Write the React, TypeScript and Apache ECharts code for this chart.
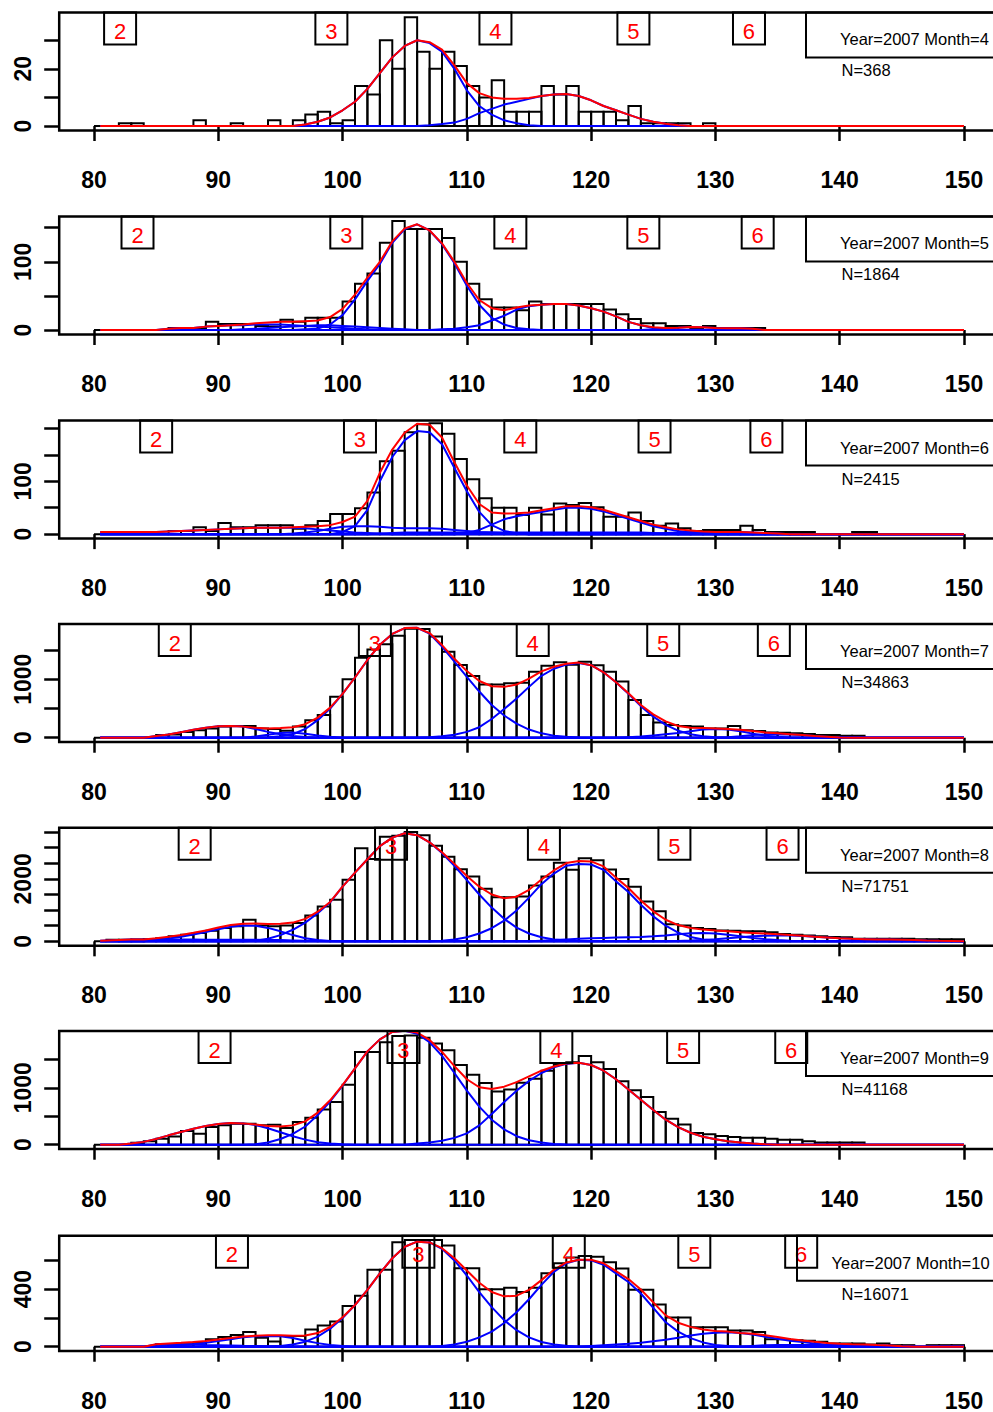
import React, { useEffect, useRef } from "react";
import * as echarts from "echarts";

const FONT = '"Liberation Sans", Arial, Helvetica, sans-serif';

// ---------- data ----------
const months = [4, 5, 6, 7, 8, 9, 10];
const sampleSizes = [368, 1864, 2415, 34863, 71751, 41168, 16071];
const xTicks = [80, 90, 100, 110, 120, 130, 140, 150];
const ageNames = ["2", "3", "4", "5", "6"];

// histogram counts, bins of width 1 from 80 to 150
const histApr = [
  0, 0, 1, 1, 0, 0, 0, 0, 2, 0,
  0, 1, 0, 0, 2, 0, 2, 4, 5, 1,
  2, 14, 11, 30, 20, 38, 26, 20, 26, 21,
  14, 10, 16, 5, 5, 5, 14, 11, 14, 5,
  5, 5, 2, 7, 1, 1, 1, 1, 0, 1,
  0, 0, 0, 0, 0, 0, 0, 0, 0, 0,
  0, 0, 0, 0, 0, 0, 0, 0, 0, 0,
];
const histMay = [
  0, 0, 0, 0, 0, 0, 3, 3, 3, 12,
  9, 9, 9, 6, 5, 15, 12, 18, 18, 18,
  42, 68, 83, 128, 160, 148, 148, 148, 135, 100,
  68, 45, 33, 33, 29, 42, 38, 38, 38, 38,
  38, 30, 23, 16, 10, 10, 6, 6, 3, 6,
  3, 3, 3, 3, 0, 0, 0, 0, 0, 0,
  0, 0, 0, 0, 0, 0, 0, 0, 0, 0,
];
const histJun = [
  0, 0, 0, 0, 0, 0, 6, 6, 13, 6,
  21, 13, 13, 17, 17, 17, 10, 17, 25, 38,
  38, 49, 79, 138, 158, 193, 208, 210, 190, 142,
  104, 68, 50, 50, 36, 50, 37, 58, 55, 59,
  51, 33, 33, 41, 25, 16, 20, 11, 6, 8,
  8, 8, 16, 8, 4, 4, 4, 4, 0, 0,
  0, 4, 4, 0, 0, 0, 0, 0, 0, 0,
];
const histJul = [
  0, 0, 0, 0, 0, 45, 57, 100, 130, 160,
  190, 200, 200, 160, 150, 120, 190, 300, 390, 700,
  1000, 1370, 1510, 1600, 1745, 1865, 1860, 1730, 1470, 1245,
  1055, 910, 910, 930, 940, 1130, 1230, 1290, 1250, 1300,
  1240, 1130, 960, 645, 390, 262, 217, 200, 190, 160,
  160, 200, 130, 115, 90, 85, 75, 63, 45, 45,
  35, 35, 0, 0, 0, 0, 0, 0, 0, 0,
];
const histAug = [
  0, 50, 50, 60, 70, 100, 160, 210, 265, 340,
  425, 480, 690, 510, 480, 510, 585, 830, 1117, 1330,
  1970, 2980, 2640, 3350, 3380, 3499, 3400, 3060, 2710, 2310,
  2075, 1680, 1415, 1415, 1436, 1787, 2075, 2520, 2290, 2660,
  2600, 2300, 2000, 1750, 1275, 960, 550, 510, 425, 395,
  350, 340, 320, 320, 290, 235, 210, 190, 160, 140,
  128, 85, 85, 85, 85, 85, 65, 65, 65, 65,
];
const histSep = [
  0, 0, 0, 35, 59, 105, 146, 240, 193, 310,
  340, 369, 369, 340, 350, 293, 398, 475, 620, 750,
  1054, 1629, 1629, 1800, 1910, 1919, 1880, 1780, 1660, 1400,
  1230, 1084, 937, 972, 1090, 1160, 1300, 1420, 1450, 1560,
  1450, 1330, 1113, 955, 838, 574, 457, 357, 205, 182,
  152, 135, 123, 123, 105, 88, 88, 59, 41, 41,
  41, 41, 0, 0, 0, 0, 0, 0, 0, 0,
];
const histOct = [
  0, 0, 0, 0, 0, 18, 18, 18, 29, 52,
  67, 81, 103, 63, 36, 74, 74, 119, 148, 175,
  283, 355, 535, 535, 726, 742, 742, 742, 703, 546,
  546, 400, 400, 410, 380, 410, 510, 580, 620, 630,
  625, 588, 543, 396, 396, 294, 204, 204, 136, 136,
  136, 113, 113, 102, 52, 52, 45, 41, 34, 23,
  23, 23, 16, 23, 11, 11, 0, 11, 11, 11,
];

// mixture components: [first integer x, values at successive integer x]
const compsApr: [number, number[]][] = [
  [96, [0, 0.5, 1.5, 3, 5.5, 8.5, 13, 18.5, 24, 28, 30, 29, 26, 20, 12.5, 7, 4, 2, 1, 0.3, 0]],
  [106, [0, 0.3, 0.7, 1.2, 2.5, 4.5, 6, 7.5, 8.5, 9.5, 10.5, 11, 11.2, 10.5, 9, 7, 5.5, 4, 2.5, 1.5, 0.8, 0.3, 0]],
];
const compsMay: [number, number[]][] = [
  [85, [0, 2, 3, 3, 5, 6, 7, 7, 8, 8, 8, 7, 6, 5, 4, 3, 2, 1, 0]],
  [91, [0, 1, 2, 3, 4, 5, 6, 7, 7, 6, 5, 4, 3, 2, 1, 0]],
  [97, [1, 2, 8, 22, 45, 72, 97, 128, 148, 155, 146, 126, 98, 65, 37, 18, 8, 3, 1, 0]],
  [108, [1, 2, 4, 7, 14, 21, 30, 35, 37, 38, 38, 36, 32, 27, 20, 12, 7, 3, 1, 0]],
  [124, [0, 1, 2, 3.5, 4.5, 4, 3, 2.5, 2.5, 2, 0]],
];
const compsJun: [number, number[]][] = [
  [80, [4, 4, 4, 4, 4, 4, 5, 6, 7, 8, 9, 10, 11, 12, 12, 12, 12, 11, 9, 7, 5, 3, 2, 1, 0]],
  [96, [1, 3, 6, 10, 14, 15, 15, 14, 12, 11, 11, 11, 10, 8, 6, 4, 3, 2, 1, 0]],
  [102, [0, 1, 2, 3, 3, 3, 3, 3, 3, 3, 3, 3, 3, 3, 3, 3, 3, 3, 3, 3, 3, 3, 3, 2, 1, 0]],
  [100, [4, 15, 46, 100, 146, 178, 195, 193, 170, 125, 81, 42, 17, 6, 1.5, 0]],
  [110, [2, 8, 18, 28, 34, 38, 42, 46, 50, 50, 48, 43, 36, 29, 22, 15, 10, 6, 3, 1, 0]],
  [124, [0, 1, 2, 3, 4, 4, 4, 4, 4, 3, 2, 1, 0]],
];
const compsJul: [number, number[]][] = [
  [84, [0, 30, 55, 95, 135, 170, 195, 200, 190, 150, 100, 60, 30, 12, 4, 0]],
  [92, [0, 20, 50, 80, 90, 70, 40, 15, 0]],
  [94, [10, 25, 60, 150, 300, 500, 750, 1030, 1330, 1590, 1775, 1875, 1880, 1780, 1560, 1300, 1040, 790, 560, 380, 240, 140, 75, 35, 15, 5, 0]],
  [107, [10, 25, 50, 100, 180, 320, 490, 670, 870, 1060, 1180, 1250, 1280, 1240, 1120, 950, 750, 540, 360, 220, 120, 60, 25, 10, 0]],
  [122, [0, 10, 20, 40, 60, 80, 110, 140, 150, 140, 110, 70, 35, 15, 5, 0]],
  [130, [0, 10, 25, 45, 55, 60, 55, 45, 28, 17, 6, 0]],
];
const compsAug: [number, number[]][] = [
  [80, [15, 30, 45, 55, 55, 55, 55, 55, 55, 50, 50, 50, 50, 50, 45, 40, 30, 20, 10, 0]],
  [84, [0, 40, 90, 150, 220, 300, 390, 470, 510, 500, 430, 320, 200, 100, 40, 10, 0]],
  [93, [20, 80, 200, 370, 600, 900, 1250, 1750, 2200, 2630, 3050, 3320, 3460, 3400, 3170, 2830, 2420, 1960, 1500, 1080, 720, 440, 250, 130, 60, 25, 10, 0]],
  [108, [20, 60, 130, 250, 420, 660, 990, 1400, 1830, 2170, 2420, 2480, 2460, 2290, 1920, 1580, 1170, 800, 500, 280, 140, 60, 25, 10, 0]],
  [115, [0, 20, 40, 60, 80, 100, 110, 120, 130, 140, 160, 190, 230, 260, 270, 250, 210, 160, 110, 70, 40, 20, 8, 0]],
  [126, [0, 10, 25, 45, 70, 100, 130, 160, 180, 190, 185, 170, 150, 125, 100, 80, 70, 60, 55, 50, 40, 25, 15, 8, 0]],
];
const compsSep: [number, number[]][] = [
  [82, [0, 20, 50, 100, 165, 225, 280, 330, 365, 380, 375, 345, 290, 220, 150, 90, 45, 20, 8, 0]],
  [93, [10, 40, 100, 190, 320, 520, 760, 1040, 1340, 1640, 1850, 1980, 2000, 1950, 1800, 1560, 1260, 950, 670, 440, 270, 150, 80, 40, 15, 5, 0]],
  [106, [20, 40, 70, 120, 200, 340, 540, 750, 950, 1120, 1260, 1360, 1420, 1440, 1400, 1300, 1150, 970, 790, 610, 440, 310, 210, 140, 95, 60, 38, 20, 8, 0]],
];
const compsOct: [number, number[]][] = [
  [84, [0, 15, 17, 17, 15, 12, 10, 8, 6, 5, 4, 3, 2, 1, 0]],
  [84, [0, 2, 5, 10, 18, 28, 40, 52, 65, 72, 75, 72, 60, 42, 25, 12, 5, 0]],
  [95, [5, 15, 35, 70, 125, 200, 290, 395, 510, 615, 695, 730, 725, 680, 600, 495, 380, 275, 185, 115, 65, 33, 15, 6, 0]],
  [108, [5, 15, 35, 65, 105, 165, 240, 330, 430, 520, 580, 605, 600, 570, 510, 450, 370, 270, 170, 105, 60, 30, 12, 5, 0]],
  [120, [5, 10, 15, 20, 28, 38, 48, 62, 78, 90, 98, 100, 96, 85, 70, 55, 42, 32, 22, 14, 9, 6, 4, 2, 1, 0]],
  [133, [5, 10, 12, 12, 12, 12, 12, 12, 12, 12, 10, 8, 3, 0]],
];

// y-axis upper limits (before R's 4% padding), ticks and printed tick labels
const yLimits = [38.2, 160.2, 206.8, 1869, 3499, 1919, 742];
const yTickSets = [
  [0, 10, 20, 30],
  [0, 50, 100, 150],
  [0, 50, 100, 150, 200],
  [0, 500, 1000, 1500],
  [0, 500, 1000, 1500, 2000, 2500, 3000, 3500],
  [0, 500, 1000, 1500],
  [0, 200, 400, 600],
];
const yLabelSets = [[0, 20], [0, 100], [0, 100], [0, 1000], [0, 2000], [0, 1000], [0, 400]];

// age-class label positions (x units)
const agePositions = [
  [82.1, 99.1, 112.3, 123.4, 132.7],
  [83.5, 100.3, 113.5, 124.2, 133.4],
  [85.0, 101.4, 114.3, 125.1, 134.1],
  [86.5, 102.6, 115.3, 125.8, 134.7],
  [88.1, 103.9, 116.2, 126.7, 135.4],
  [89.7, 104.9, 117.2, 127.4, 136.1],
  [91.1, 106.1, 118.2, 128.3, 136.9],
];

const histograms = [histApr, histMay, histJun, histJul, histAug, histSep, histOct];
const components = [compsApr, compsMay, compsJun, compsJul, compsAug, compsSep, compsOct];

// ---------- layout ----------
const GRID_TOPS = [12.4, 216.4, 420.5, 624.1, 827.7, 1031.1, 1235.7];
const GRID_H = 118;
const GRID_LEFT = 59.2;
const GRID_W = 939.6;
const X_MIN = 77.2;
const X_MAX = 152.8;
const CHART_W = 1012;
const LEGEND_LEFT = [806, 806, 806, 806, 806, 806, 797];
const LEGEND_TEXT_LEFT = [840, 840, 840, 840, 840, 840, 831.5];

const curveXs: number[] = [80.5];
for (let x = 81; x <= 150; x++) curveXs.push(x);

function compAt(comp: [number, number[]], x: number): number {
  const idx = Math.floor(x) - comp[0];
  if (idx < 0 || idx >= comp[1].length) return 0;
  return comp[1][idx];
}

const renderBar = (_params: any, api: any) => {
  const x0 = api.value(0);
  const c = api.value(1);
  const a = api.coord([x0, c]);
  const b = api.coord([x0 + 1, 0]);
  return {
    type: "rect",
    shape: { x: a[0], y: a[1], width: b[0] - a[0], height: b[1] - a[1] },
    style: { fill: "none", stroke: "#000", lineWidth: 2 },
  };
};

const renderAge = (_params: any, api: any) => {
  const p = api.coord([api.value(0), api.value(1)]);
  const k = api.value(2);
  return {
    type: "group",
    children: [
      {
        type: "rect",
        shape: { x: p[0] - 16, y: p[1], width: 32, height: 32 },
        style: { fill: "none", stroke: "#000", lineWidth: 2 },
      },
      {
        type: "text",
        style: {
          text: ageNames[k],
          x: p[0],
          y: p[1] + 19,
          fill: "#ff0000",
          fontSize: 22,
          fontFamily: FONT,
          align: "center",
          verticalAlign: "middle",
        },
      },
    ],
  };
};

function buildOption() {
  const grids: any[] = [];
  const xAxes: any[] = [];
  const yAxes: any[] = [];
  const series: any[] = [];
  const graphics: any[] = [];

  months.forEach((m, i) => {
    const Y = yLimits[i];
    grids.push({
      left: GRID_LEFT,
      top: GRID_TOPS[i],
      width: GRID_W,
      height: GRID_H,
      show: true,
      borderColor: "#000",
      borderWidth: 2.5,
      backgroundColor: "transparent",
    });
    xAxes.push({
      type: "value",
      gridIndex: i,
      min: X_MIN,
      max: X_MAX,
      axisLine: { show: false },
      splitLine: { show: false },
      axisTick: { show: true, length: 15, customValues: xTicks, lineStyle: { color: "#000", width: 2.5 } },
      axisLabel: {
        customValues: xTicks,
        margin: 38,
        fontSize: 23,
        fontWeight: "bold",
        fontFamily: FONT,
        color: "#000",
        formatter: (v: number) => String(v),
      },
    });
    yAxes.push({
      type: "value",
      gridIndex: i,
      min: -0.04 * Y,
      max: 1.04 * Y,
      axisLine: { show: false },
      splitLine: { show: false },
      axisTick: { show: true, length: 15, customValues: yTickSets[i], lineStyle: { color: "#000", width: 2.5 } },
      axisLabel: {
        customValues: yLabelSets[i],
        rotate: 90,
        margin: 25,
        fontSize: 23,
        fontWeight: "bold",
        fontFamily: FONT,
        color: "#000",
        formatter: (v: number) => String(v),
      },
    });

    series.push({
      type: "custom",
      xAxisIndex: i,
      yAxisIndex: i,
      silent: true,
      z: 2,
      encode: { x: 0, y: 1 },
      data: histograms[i].map((c, k) => [xTicks[0] + k, c]),
      renderItem: renderBar,
    });

    const comps = components[i];
    comps.forEach((comp) => {
      series.push({
        type: "line",
        xAxisIndex: i,
        yAxisIndex: i,
        silent: true,
        z: 3,
        showSymbol: false,
        symbol: "none",
        lineStyle: { color: "#0000ff", width: 2 },
        data: curveXs.map((x) => [x, compAt(comp, x)]),
      });
    });
    series.push({
      type: "line",
      xAxisIndex: i,
      yAxisIndex: i,
      silent: true,
      z: 4,
      showSymbol: false,
      symbol: "none",
      lineStyle: { color: "#ff0000", width: 2 },
      data: curveXs.map((x) => [x, comps.reduce((s, c) => s + compAt(c, x), 0)]),
    });

    series.push({
      type: "custom",
      xAxisIndex: i,
      yAxisIndex: i,
      silent: true,
      z: 5,
      encode: { x: 0, y: 1 },
      data: agePositions[i].map((x, k) => [x, 1.04 * Y, k]),
      renderItem: renderAge,
    });

    const top = GRID_TOPS[i];
    graphics.push({
      type: "rect",
      silent: true,
      z: 10,
      shape: { x: LEGEND_LEFT[i], y: top, width: 260, height: 45 },
      style: { fill: "none", stroke: "#000", lineWidth: 2 },
    });
    graphics.push({
      type: "text",
      silent: true,
      z: 10,
      x: LEGEND_TEXT_LEFT[i],
      y: top + 27,
      style: {
        text: `Year=2007 Month=${m}`,
        fontSize: 16.5,
        fontFamily: FONT,
        fill: "#000",
        verticalAlign: "middle",
      },
    });
    graphics.push({
      type: "text",
      silent: true,
      z: 10,
      x: 841.5,
      y: top + 58,
      style: {
        text: `N=${sampleSizes[i]}`,
        fontSize: 16.5,
        fontFamily: FONT,
        fill: "#000",
        verticalAlign: "middle",
      },
    });
  });

  return {
    animation: false,
    backgroundColor: "#fff",
    grid: grids,
    xAxis: xAxes,
    yAxis: yAxes,
    series,
    graphic: graphics,
  };
}

export default function App() {
  const ref = useRef<HTMLDivElement>(null);
  useEffect(() => {
    if (!ref.current) return;
    const chart = echarts.init(ref.current, undefined, { renderer: "svg" });
    chart.setOption(buildOption() as any);
    return () => chart.dispose();
  }, []);
  return (
    <div
      style={{
        position: "absolute",
        left: 0,
        top: 0,
        width: 993,
        height: 1412,
        overflow: "hidden",
        background: "#fff",
      }}
    >
      <div ref={ref} style={{ width: CHART_W, height: 1412 }} />
    </div>
  );
}
